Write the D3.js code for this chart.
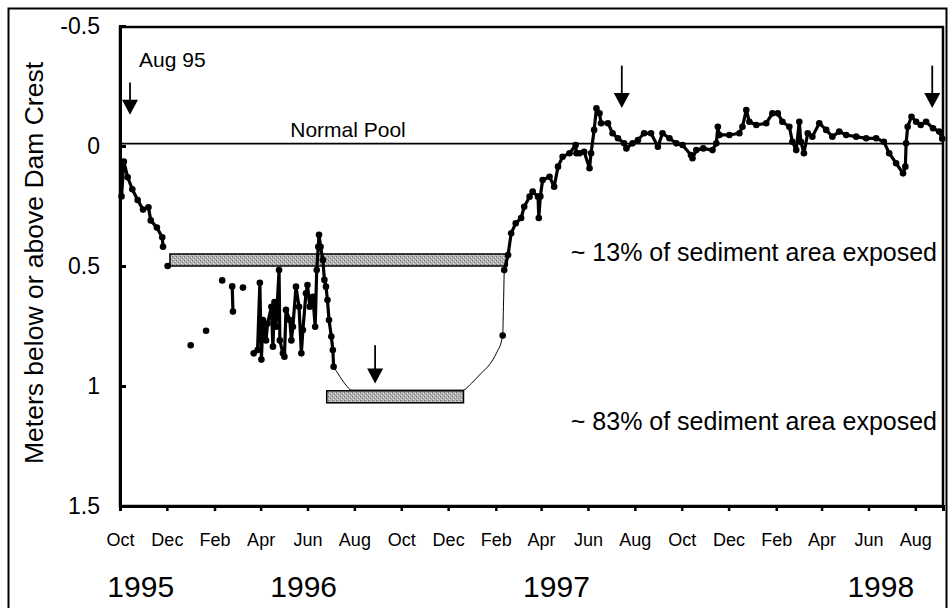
<!DOCTYPE html>
<html>
<head>
<meta charset="utf-8">
<script src="https://cdn.jsdelivr.net/npm/d3@7"></script>
<style>
  html, body { margin: 0; padding: 0; background: #fff; }
  svg { display: block; }
  text { font-family: 'Liberation Sans', Arial, sans-serif; fill: #000; }
</style>
</head>
<body>
<div id="viz"></div>
<script>
'use strict';

// water level, meters below (+) or above (-) the dam crest; null = gap in record
const levels = [
  ['1995-10-03', 0.21], ['1995-10-06', 0.065], ['1995-10-11', 0.13], ['1995-10-17', 0.18],
  ['1995-10-24', 0.225], ['1995-10-31', 0.265], ['1995-11-07', 0.255], ['1995-11-10', 0.31],
  ['1995-11-18', 0.34], ['1995-11-25', 0.38], ['1995-11-26', 0.42],
  null,
  ['1995-12-02', 0.50],
  null,
  ['1996-01-01', 0.83],
  null,
  ['1996-01-21', 0.77],
  null,
  ['1996-02-11', 0.56],
  null,
  ['1996-02-24', 0.585], ['1996-02-25', 0.69],
  null,
  ['1996-03-09', 0.59],
  null,
  ['1996-03-23', 0.864], ['1996-03-28', 0.85], ['1996-03-31', 0.57], ['1996-04-02', 0.89],
  ['1996-04-04', 0.725], ['1996-04-08', 0.81], ['1996-04-10', 0.74], ['1996-04-15', 0.67],
  ['1996-04-17', 0.836], ['1996-04-19', 0.65], ['1996-04-21', 0.753], ['1996-04-25', 0.517],
  ['1996-04-26', 0.81], ['1996-04-30', 0.864], ['1996-05-02', 0.878], ['1996-05-04', 0.683],
  ['1996-05-09', 0.725], ['1996-05-11', 0.81], ['1996-05-13', 0.753], ['1996-05-17', 0.586],
  ['1996-05-21', 0.67], ['1996-05-24', 0.864], ['1996-05-26', 0.767], ['1996-05-30', 0.614],
  ['1996-06-01', 0.579], ['1996-06-04', 0.67], ['1996-06-08', 0.628], ['1996-06-11', 0.753],
  ['1996-06-13', 0.517], ['1996-06-15', 0.42], ['1996-06-16', 0.37], ['1996-06-18', 0.42],
  ['1996-06-21', 0.475], ['1996-06-23', 0.558], ['1996-06-25', 0.586], ['1996-06-27', 0.642],
  ['1996-06-29', 0.725], ['1996-07-02', 0.794], ['1996-07-04', 0.85], ['1996-07-05', 0.92],
  null,
  ['1997-02-10', 0.79],
  null,
  ['1997-02-12', 0.517], ['1997-02-17', 0.454], ['1997-02-21', 0.364], ['1997-02-27', 0.322],
  ['1997-03-06', 0.30], ['1997-03-10', 0.253], ['1997-03-17', 0.211], ['1997-03-21', 0.19],
  ['1997-03-28', 0.211], ['1997-03-29', 0.30], ['1997-03-31', 0.21], ['1997-04-03', 0.142],
  ['1997-04-12', 0.128], ['1997-04-18', 0.17], ['1997-04-23', 0.086], ['1997-04-29', 0.045],
  ['1997-05-08', 0.03], ['1997-05-16', -0.004], ['1997-05-17', 0.03], ['1997-05-21', 0.03],
  ['1997-05-27', 0.024], ['1997-06-03', 0.093], ['1997-06-05', 0.03], ['1997-06-09', -0.067],
  ['1997-06-12', -0.157], ['1997-06-16', -0.136], ['1997-06-18', -0.095], ['1997-06-27', -0.095],
  ['1997-07-03', -0.053], ['1997-07-10', -0.032], ['1997-07-18', -0.011], ['1997-07-21', 0.01],
  ['1997-07-29', -0.011], ['1997-08-05', -0.025], ['1997-08-13', -0.053], ['1997-08-22', -0.053],
  ['1997-08-31', 0.003], ['1997-09-06', -0.053], ['1997-09-15', -0.032], ['1997-09-24', -0.011],
  ['1997-10-02', -0.004], ['1997-10-13', 0.0375], ['1997-10-15', 0.051], ['1997-10-20', 0.017],
  ['1997-10-29', 0.01], ['1997-11-10', 0.017], ['1997-11-15', -0.011], ['1997-11-17', -0.08],
  ['1997-11-19', -0.046], ['1997-12-02', -0.046], ['1997-12-15', -0.053], ['1997-12-19', -0.08],
  ['1997-12-24', -0.15], ['1997-12-28', -0.101], ['1998-01-06', -0.0875], ['1998-01-19', -0.095],
  ['1998-01-27', -0.136], ['1998-02-03', -0.136], ['1998-02-09', -0.101], ['1998-02-18', -0.08],
  ['1998-02-22', -0.018], ['1998-02-27', 0.017], ['1998-03-03', -0.101], ['1998-03-05', -0.018],
  ['1998-03-09', 0.03], ['1998-03-14', -0.053], ['1998-03-20', -0.039], ['1998-03-29', -0.095],
  ['1998-04-07', -0.067], ['1998-04-15', -0.039], ['1998-04-24', -0.06], ['1998-05-03', -0.046],
  ['1998-05-16', -0.039], ['1998-05-29', -0.032], ['1998-06-11', -0.032], ['1998-06-21', -0.018],
  ['1998-06-28', 0.03], ['1998-07-07', 0.072], ['1998-07-16', 0.114], ['1998-07-19', 0.086],
  ['1998-07-20', -0.011], ['1998-07-22', -0.08], ['1998-07-27', -0.122], ['1998-08-02', -0.101],
  ['1998-08-08', -0.0875], ['1998-08-15', -0.101], ['1998-08-24', -0.074], ['1998-09-01', -0.06],
  ['1998-09-05', -0.03]
];

// thin line through the unrecorded low-water period
const estimated = [
  ['1996-07-05', 0.92], ['1996-07-13', 0.96], ['1996-07-21', 0.996], ['1996-07-28', 1.017],
  ['1996-12-20', 1.017], ['1996-12-31', 0.99], ['1997-01-12', 0.95], ['1997-01-24', 0.91],
  ['1997-02-02', 0.862], ['1997-02-10', 0.79], ['1997-02-11', 0.67], ['1997-02-12', 0.517]
];

// exposure periods: [start, end, top, bottom, label]
const exposureBars = [
  ['1995-12-05', '1997-02-16', 0.45, 0.5, '~ 13% of sediment area exposed'],
  ['1996-06-26', '1996-12-21', 1.02, 1.07, '~ 83% of sediment area exposed']
];
const exposureLabelY = [0.44, 1.145];

// sampling arrows: [date, from, to]
const arrows = [
  ['1995-10-14', -0.265, -0.13],
  ['1996-08-28', 0.83, 0.99],
  ['1997-07-15', -0.335, -0.158],
  ['1998-08-23', -0.335, -0.158]
];

const normalPool = -0.01;
const yTicks = [-0.5, 0, 0.5, 1, 1.5];
const monthTicks = [
  '1995-10-01', '1995-12-01', '1996-02-01', '1996-04-01', '1996-06-01', '1996-08-01',
  '1996-10-01', '1996-12-01', '1997-02-01', '1997-04-01', '1997-06-01', '1997-08-01',
  '1997-10-01', '1997-12-01', '1998-02-01', '1998-04-01', '1998-06-01', '1998-08-01'
];
const yearLabels = [
  ['1995', '1995-10-28'], ['1996', '1996-05-27'], ['1997', '1997-04-21'], ['1998', '1998-06-17']
];

const parse = d3.timeParse('%Y-%m-%d');
const levelData = levels.map(d => d ? {date: parse(d[0]), value: d[1]} : null);
const estData = estimated.map(d => ({date: parse(d[0]), value: d[1]}));

const W = 950, H = 608;
const plotL = 120, plotR = 943, plotT = 26, plotB = 506;

const svg = d3.select('#viz')
  .append('svg')
    .attr('width', W)
    .attr('height', H);

// stippled grey fill for the exposure bars
const pat = svg.append('defs')
  .append('pattern')
    .attr('id', 'stipple')
    .attr('width', 4)
    .attr('height', 4)
    .attr('patternUnits', 'userSpaceOnUse');
pat.append('rect').attr('width', 4).attr('height', 4).attr('fill', '#b0b0b0');
pat.append('rect').attr('x', 0).attr('y', 0).attr('width', 1).attr('height', 1).attr('fill', '#707070');
pat.append('rect').attr('x', 2).attr('y', 2).attr('width', 1).attr('height', 1).attr('fill', '#808080');
pat.append('rect').attr('x', 1).attr('y', 3).attr('width', 1).attr('height', 1).attr('fill', '#e4e4e4');
pat.append('rect').attr('x', 3).attr('y', 1).attr('width', 1).attr('height', 1).attr('fill', '#dcdcdc');

// outer figure border
svg.append('rect')
  .attr('x', 8.5)
  .attr('y', 8.5)
  .attr('width', 938)
  .attr('height', 620)
  .attr('fill', 'none')
  .attr('stroke', '#000')
  .attr('stroke-width', 2);

const x = d3.scaleTime()
  .domain([parse('1995-10-01'), parse('1998-09-06')])
  .range([plotL, plotR]);

const y = d3.scaleLinear()
  .domain([-0.5, 1.5])
  .range([plotT, plotB]);

// plot frame
svg.append('rect')
  .attr('x', plotL)
  .attr('y', plotT + 1)
  .attr('width', plotR - plotL)
  .attr('height', plotB - plotT - 1)
  .attr('fill', 'none')
  .attr('stroke', '#000')
  .attr('stroke-width', 2.5);

// axes
const yAxis = svg.append('g')
  .attr('transform', `translate(${plotL},0)`)
  .call(d3.axisLeft(y).tickValues(yTicks).tickSize(-6).tickPadding(20)
    .tickFormat(d => d === 0 ? '0' : String(d)));
yAxis.select('.domain').attr('stroke-width', 3);
yAxis.selectAll('.tick line').attr('stroke-width', 3);
yAxis.selectAll('text').attr('font-size', 23);

const xAxis = svg.append('g')
  .attr('transform', `translate(0,${plotB})`)
  .call(d3.axisBottom(x).tickValues(monthTicks.map(parse)).tickSize(5).tickPadding(22)
    .tickFormat(d3.timeFormat('%b')));
xAxis.select('.domain').attr('stroke-width', 3);
xAxis.selectAll('.tick line').attr('stroke-width', 2.5);
xAxis.selectAll('text').attr('font-size', 18);
svg.selectAll('g').attr('font-family', null);

svg.selectAll('.year')
  .data(yearLabels)
  .join('text')
    .attr('class', 'year')
    .attr('x', d => x(parse(d[1])))
    .attr('y', 597)
    .attr('text-anchor', 'middle')
    .attr('font-size', 30)
    .text(d => d[0]);

svg.append('text')
  .attr('transform', 'translate(43,263) rotate(-90)')
  .attr('text-anchor', 'middle')
  .attr('font-size', 26.5)
  .text('Meters below or above Dam Crest');

// normal pool line
svg.append('line')
  .attr('x1', plotL)
  .attr('x2', plotR)
  .attr('y1', y(normalPool))
  .attr('y2', y(normalPool))
  .attr('stroke', '#000')
  .attr('stroke-width', 1.6);

svg.append('text')
  .attr('x', 348)
  .attr('y', 137)
  .attr('text-anchor', 'middle')
  .attr('font-size', 21)
  .text('Normal Pool');

// estimated thin curve
svg.append('path')
  .datum(estData)
  .attr('fill', 'none')
  .attr('stroke', '#000')
  .attr('stroke-width', 1)
  .attr('d', d3.line()
    .curve(d3.curveMonotoneX)
    .x(d => x(d.date))
    .y(d => y(d.value)));

// exposure bars
svg.selectAll('.bar')
  .data(exposureBars)
  .join('rect')
    .attr('class', 'bar')
    .attr('x', d => x(parse(d[0])))
    .attr('y', d => y(d[2]))
    .attr('width', d => x(parse(d[1])) - x(parse(d[0])))
    .attr('height', d => y(d[3]) - y(d[2]))
    .attr('fill', 'url(#stipple)')
    .attr('stroke', '#000')
    .attr('stroke-width', 1.5);

svg.selectAll('.barLabel')
  .data(exposureBars)
  .join('text')
    .attr('class', 'barLabel')
    .attr('x', 937)
    .attr('y', (d, i) => y(exposureLabelY[i]) + 9)
    .attr('text-anchor', 'end')
    .attr('font-size', 25)
    .text(d => d[4]);

// recorded levels
svg.append('path')
  .datum(levelData)
  .attr('fill', 'none')
  .attr('stroke', '#000')
  .attr('stroke-width', 3.2)
  .attr('stroke-linejoin', 'round')
  .attr('d', d3.line()
    .defined(d => d !== null)
    .x(d => x(d.date))
    .y(d => y(d.value)));

svg.selectAll('.pt')
  .data(levelData.filter(d => d !== null))
  .join('circle')
    .attr('class', 'pt')
    .attr('cx', d => x(d.date))
    .attr('cy', d => y(d.value))
    .attr('r', 3.3)
    .attr('fill', '#000');

// sampling arrows
const arrowG = svg.selectAll('.arrow')
  .data(arrows)
  .join('g')
    .attr('class', 'arrow');

arrowG.append('line')
  .attr('x1', d => x(parse(d[0])))
  .attr('x2', d => x(parse(d[0])))
  .attr('y1', d => y(d[1]))
  .attr('y2', d => y(d[2]) - 10)
  .attr('stroke', '#000')
  .attr('stroke-width', 1.8);

arrowG.append('path')
  .attr('d', d => {
    const ax = x(parse(d[0])), ay = y(d[2]);
    return `M${ax - 8},${ay - 15}L${ax + 8},${ay - 15}L${ax},${ay}Z`;
  })
  .attr('fill', '#000');

svg.append('text')
  .attr('x', 139)
  .attr('y', 67)
  .attr('font-size', 21)
  .text('Aug 95');
</script>
</body>
</html>
